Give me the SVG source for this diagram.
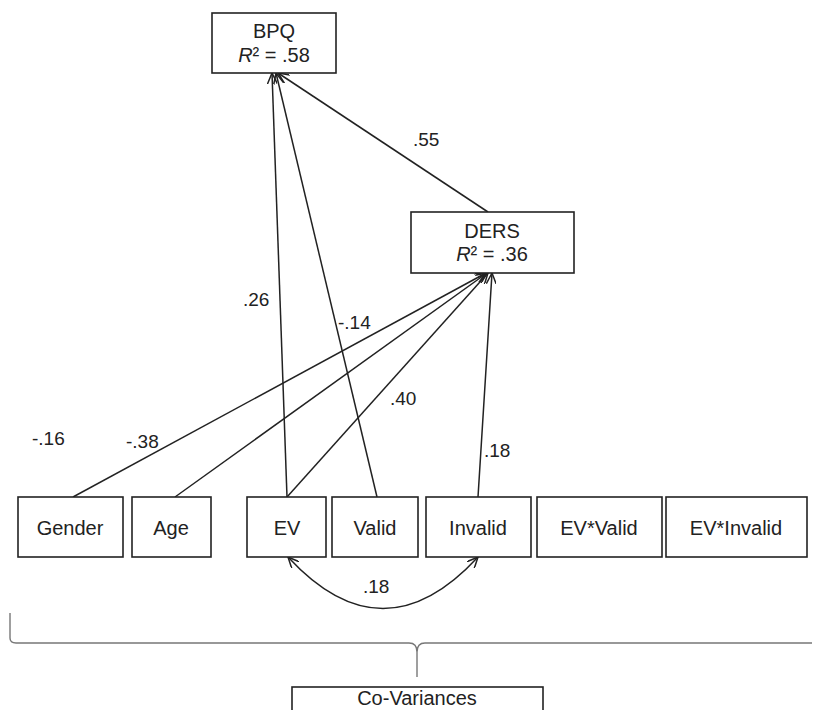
<svg xmlns="http://www.w3.org/2000/svg" width="816" height="710" viewBox="0 0 816 710">
<defs>
<style>
.box{fill:#fff;stroke:#222;stroke-width:1.6}
.t{font-family:"Liberation Sans",Arial,sans-serif;font-size:20px;fill:#222;text-anchor:middle}
.lbl{font-family:"Liberation Sans",Arial,sans-serif;font-size:19px;fill:#222}
.ln{fill:none;stroke:#222;stroke-width:1.5}
.br{fill:none;stroke:#777;stroke-width:1.4}
</style>
<marker id="ah" viewBox="0 0 12 10" refX="11" refY="5" markerWidth="12" markerHeight="10" markerUnits="userSpaceOnUse" orient="auto-start-reverse">
<path d="M0,0 L11,5 L0,10" fill="none" stroke="#222" stroke-width="1.5"/>
</marker>
</defs>
<rect width="816" height="710" fill="#fff"/>
<g id="connectors">
<line class="ln" x1="488" y1="212" x2="278" y2="73" marker-end="url(#ah)"/>
<line class="ln" x1="287" y1="497" x2="272" y2="73" marker-end="url(#ah)"/>
<line class="ln" x1="377" y1="497" x2="276" y2="73" marker-end="url(#ah)"/>
<line class="ln" x1="73" y1="497" x2="486" y2="273" marker-end="url(#ah)"/>
<line class="ln" x1="175" y1="497" x2="487" y2="273" marker-end="url(#ah)"/>
<line class="ln" x1="287" y1="497" x2="488" y2="273" marker-end="url(#ah)"/>
<line class="ln" x1="478" y1="497" x2="492" y2="273" marker-end="url(#ah)"/>
<path class="ln" d="M288,557 Q383,660 478,557" marker-start="url(#ah)" marker-end="url(#ah)"/>
<text class="lbl" x="413" y="146">.55</text>
<text class="lbl" x="243" y="306">.26</text>
<text class="lbl" x="338" y="329">-.14</text>
<text class="lbl" x="390" y="405">.40</text>
<text class="lbl" x="484" y="457">.18</text>
<text class="lbl" x="32" y="445">-.16</text>
<text class="lbl" x="126" y="448">-.38</text>
<text class="lbl" x="363" y="593">.18</text>
</g>
<g id="BPQ">
<rect class="box" x="212" y="13" width="124" height="60"/>
<text class="t" x="274" y="38">BPQ</text>
<text class="t" x="274" y="62"><tspan font-style="italic">R</tspan>² = .58</text>
</g>
<g id="DERS">
<rect class="box" x="411" y="212" width="163" height="61"/>
<text class="t" x="492" y="238">DERS</text>
<text class="t" x="492" y="261"><tspan font-style="italic">R</tspan>² = .36</text>
</g>
<g id="Gender"><rect class="box" x="18" y="497" width="105" height="60"/><text class="t" x="70" y="535">Gender</text></g>
<g id="Age"><rect class="box" x="132" y="497" width="79" height="60"/><text class="t" x="171" y="535">Age</text></g>
<g id="EV"><rect class="box" x="247" y="497" width="79" height="60"/><text class="t" x="287" y="535">EV</text></g>
<g id="Valid"><rect class="box" x="332" y="497" width="86" height="60"/><text class="t" x="375" y="535">Valid</text></g>
<g id="Invalid"><rect class="box" x="426" y="497" width="105" height="60"/><text class="t" x="478" y="535">Invalid</text></g>
<g id="EVValid"><rect class="box" x="537" y="497" width="125" height="60"/><text class="t" x="599" y="535">EV*Valid</text></g>
<g id="EVInvalid"><rect class="box" x="666" y="497" width="141" height="60"/><text class="t" x="736" y="535">EV*Invalid</text></g>
<g id="bracket">
<path class="br" d="M10,613 L10,638 Q10,643 16,643 L409,643 Q417,643 417,652 L417,677 M417,652 Q417,643 425,643 L812,643"/>
</g>
<g id="CoVariances">
<rect class="box" x="292" y="687" width="251" height="30"/>
<text class="t" x="417" y="705">Co-Variances</text>
</g>
</svg>
